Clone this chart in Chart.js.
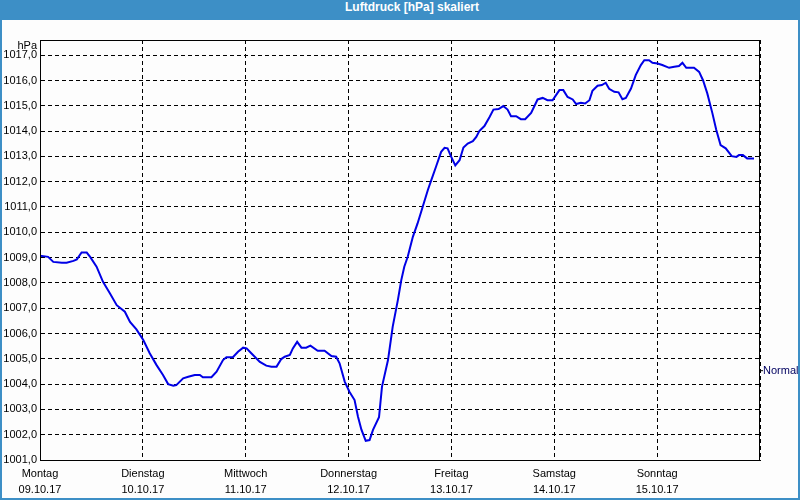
<!DOCTYPE html>
<html>
<head>
<meta charset="utf-8">
<script src="https://cdn.jsdelivr.net/npm/chart.js@4/dist/chart.umd.min.js"></script>
<style>
  body { margin: 0; }
  #frame { position: relative; width: 800px; height: 500px; background: #3d8fc6; }
  #title { position: absolute; left: 12px; top: 0; width: 800px; height: 20px; line-height: 20px;
           text-align: center; color: #fff; font: bold 12px "Liberation Sans", sans-serif; }
  #inner { position: absolute; left: 2px; top: 20px; width: 796px; height: 478px; background: #fdfdfd; }
  canvas { position: absolute; left: 0; top: 0; }
</style>
</head>
<body>
<div id="frame">
  <div id="title">Luftdruck [hPa] skaliert</div>
  <div id="inner"></div>
  <canvas id="myChart" width="800" height="500"></canvas>
</div>
<script>
const dayNames = ["Montag", "Dienstag", "Mittwoch", "Donnerstag", "Freitag", "Samstag", "Sonntag"];
const dayDates = ["09.10.17", "10.10.17", "11.10.17", "12.10.17", "13.10.17", "14.10.17", "15.10.17"];

// hours since Monday 00:00
const hours = [
  0, 1.9, 3.1, 5.1, 6.2, 7.8, 8.6, 9.7, 10.9, 11.7, 13.2, 14.7, 16.3, 17.9, 19.8, 21.0, 22.5,
  24.1, 25.6, 27.2, 28.7, 29.9, 31.1, 31.8, 33.4, 34.6, 36.1, 37.3, 38.0, 40.0, 41.2, 42.7, 43.5,
  45.0, 46.2, 47.4, 48.2, 49.3, 51.3, 52.8, 54.0, 55.2, 56.3, 57.1, 58.3, 59.0, 60.0, 61.0, 62.1,
  63.1, 64.8, 66.4, 68.0, 69.1, 69.9, 71.1, 72.2, 73.4, 74.2, 75.0, 76.0, 76.9, 77.7, 79.1, 79.8,
  81.2, 82.3, 83.5, 84.3, 85.0, 85.8, 87.0, 88.1, 89.3, 90.5, 91.3, 92.4, 93.6, 94.4, 95.1, 95.9,
  96.9, 97.9, 98.8, 99.8, 101.0, 101.8, 102.5, 103.7, 104.9, 105.8, 107.0, 108.1, 109.1, 109.9,
  111.1, 112.2, 113.2, 114.6, 116.1, 117.3, 118.4, 119.6, 121.2, 122.1, 123.1, 124.3, 125.1, 126.2,
  127.2, 128.2, 128.9, 130.1, 131.1, 132.0, 132.8, 134.0, 135.0, 135.9, 136.7, 137.9, 139.0, 140.2,
  141.0, 142.1, 142.9, 144.1, 145.2, 146.8, 148.0, 149.1, 149.9, 150.8, 152.6, 153.8, 154.7, 155.7,
  156.9, 157.8, 158.8, 160.0, 161.4, 162.5, 163.1, 164.0, 165.0, 166.6
];
const pressure = [
  1009.07, 1009.03, 1008.83, 1008.8, 1008.8, 1008.87, 1008.93, 1009.2, 1009.2, 1009.03, 1008.64, 1008.04, 1007.59, 1007.12, 1006.86, 1006.46, 1006.16,
  1005.74, 1005.22, 1004.75, 1004.36, 1004.0, 1003.94, 1003.96, 1004.23, 1004.29, 1004.36, 1004.36, 1004.27, 1004.27, 1004.49, 1004.95, 1005.06,
  1005.06, 1005.28, 1005.44, 1005.41, 1005.22, 1004.88, 1004.73, 1004.69, 1004.69, 1004.99, 1005.08, 1005.15, 1005.41, 1005.67, 1005.44, 1005.44,
  1005.52, 1005.32, 1005.32, 1005.11, 1005.08, 1004.82, 1004.1, 1003.7, 1003.37, 1002.71, 1002.2, 1001.76, 1001.79, 1002.19, 1002.69, 1003.9,
  1004.95, 1006.27, 1007.32, 1008.11, 1008.64, 1009.03, 1009.82, 1010.35, 1011.01, 1011.67, 1012.06, 1012.59, 1013.18, 1013.34, 1013.32, 1013.0,
  1012.64, 1012.85, 1013.35, 1013.51, 1013.6, 1013.77, 1014.0, 1014.2, 1014.56, 1014.85, 1014.87, 1014.99, 1014.85, 1014.59,
  1014.59, 1014.47, 1014.47, 1014.72, 1015.25, 1015.31, 1015.22, 1015.22, 1015.62, 1015.62, 1015.35, 1015.25, 1015.07, 1015.12,
  1015.09, 1015.22, 1015.59, 1015.79, 1015.82, 1015.91, 1015.67, 1015.55, 1015.53, 1015.26, 1015.31, 1015.68, 1016.21, 1016.61,
  1016.8, 1016.8, 1016.7, 1016.67, 1016.61, 1016.5, 1016.54, 1016.57, 1016.7, 1016.5, 1016.5, 1016.34, 1016.01, 1015.49,
  1014.7, 1014.04, 1013.45, 1013.32, 1013.01, 1012.98, 1013.05, 1013.05, 1012.92, 1012.92
];

const normalLevel = 1004.55;
const FONT = "Liberation Sans";

const points = hours.map((h, i) => ({ x: h, y: pressure[i] }));

const extras = {
  id: "extras",
  afterDraw(chart) {
    const ctx = chart.ctx;
    const a = chart.chartArea;
    ctx.save();
    ctx.strokeStyle = "#000";
    ctx.lineWidth = 1;
    ctx.setLineDash([]);
    ctx.strokeRect(a.left + 0.5, a.top + 0.5, a.right - a.left - 1, a.bottom - a.top);
    ctx.fillStyle = "#000";
    ctx.font = "11px " + FONT;
    ctx.textAlign = "right";
    ctx.textBaseline = "middle";
    ctx.fillText("hPa", a.left - 3, a.top + 6);
    const yN = chart.scales.y.getPixelForValue(normalLevel);
    ctx.beginPath();
    ctx.moveTo(a.right, yN + 0.5);
    ctx.lineTo(a.right + 3, yN + 0.5);
    ctx.stroke();
    ctx.fillStyle = "#000060";
    ctx.textAlign = "left";
    ctx.fillText("Normal", a.right + 3, yN + 1);
    ctx.restore();
  }
};

new Chart("myChart", {
  type: "line",
  data: {
    datasets: [
      {
        data: points,
        borderColor: "#0000e6",
        borderWidth: 2,
        pointRadius: 0,
        tension: 0,
        fill: false,
      },
    ],
  },
  options: {
    responsive: false,
    animation: false,
    events: [],
    layout: { padding: { left: 0, top: 40, right: 40, bottom: 0 } },
    plugins: { legend: { display: false }, tooltip: { enabled: false } },
    scales: {
      x: {
        type: "linear",
        min: 0,
        max: 168,
        afterFit: (s) => { s.height = 40; },
        ticks: {
          stepSize: 24,
          autoSkip: false,
          maxRotation: 0,
          padding: 6,
          color: "#000",
          font: { family: FONT, size: 11, lineHeight: 1.45 },
          callback: (v) => {
            const i = Math.round(v / 24);
            return i < dayNames.length ? [dayNames[i], dayDates[i]] : "";
          },
        },
        grid: { color: "#000", lineWidth: 1, drawTicks: false, tickLength: 0 },
        border: { display: true, color: "#000", dash: [4, 3] },
      },
      y: {
        min: 1001,
        max: 1017.6,
        afterFit: (s) => { s.width = 40; },
        afterBuildTicks: (s) => { s.ticks = s.ticks.filter((t) => Number.isInteger(t.value)); },
        ticks: {
          stepSize: 1,
          padding: 3,
          color: "#000",
          font: { family: FONT, size: 11 },
          callback: (v) => v.toFixed(1).replace(".", ","),
        },
        grid: { color: "#000", lineWidth: 1, drawTicks: false, tickLength: 0 },
        border: { display: true, color: "#000", dash: [4, 3] },
      },
    },
  },
  plugins: [extras],
});
</script>
</body>
</html>
